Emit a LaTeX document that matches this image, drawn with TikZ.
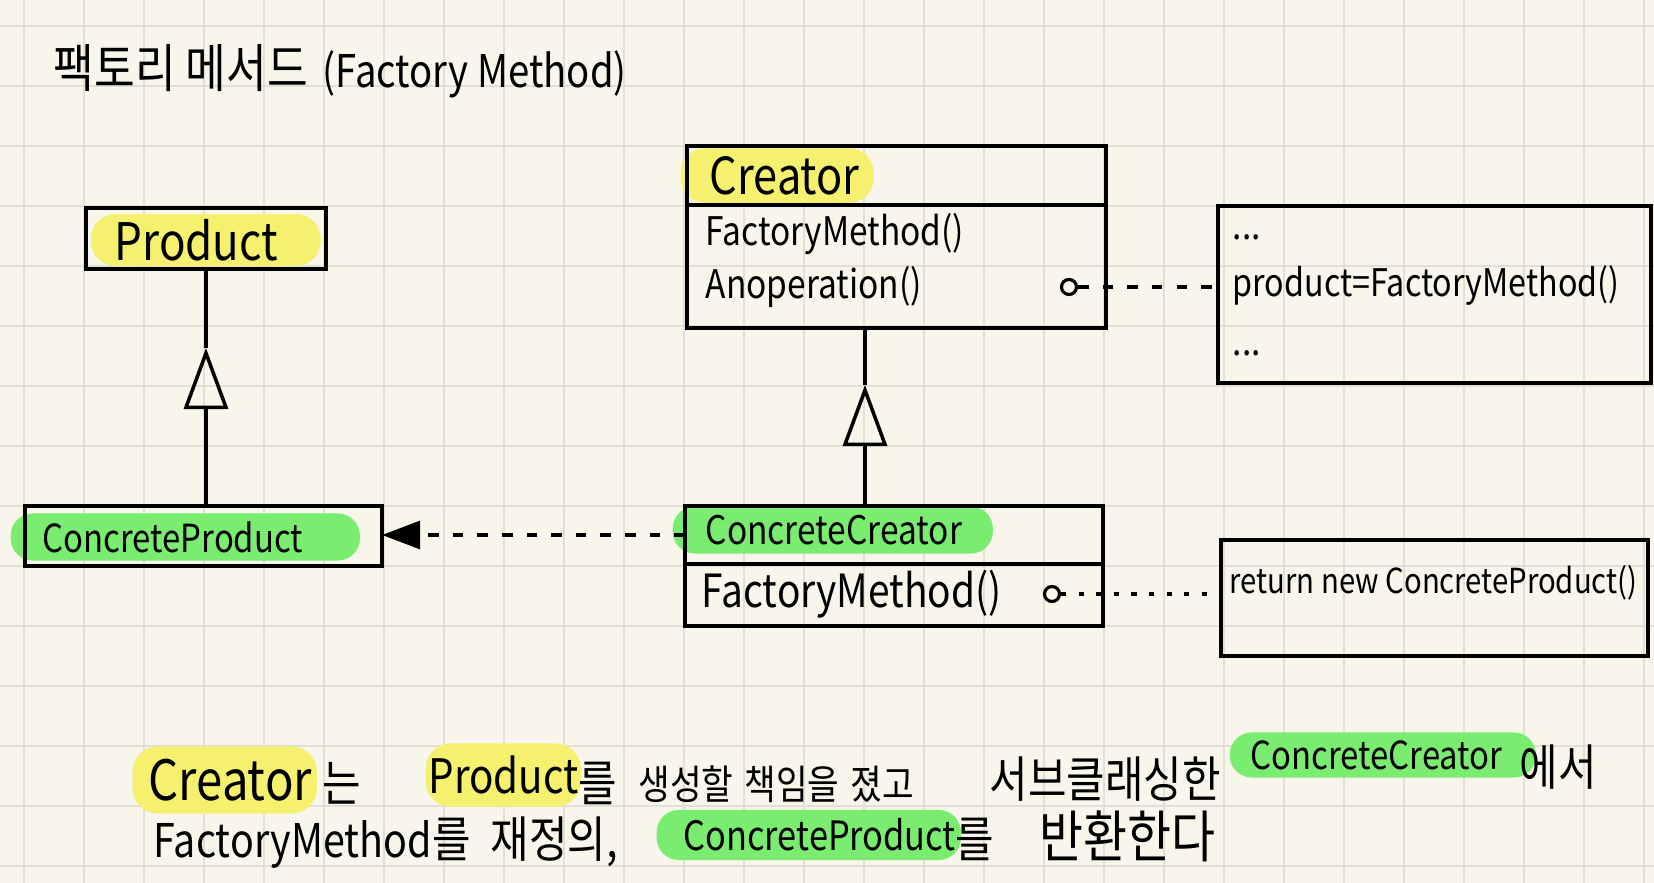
\documentclass[tikz,border=0pt]{standalone}
\usepackage{fontspec}
\setmainfont{Noto Sans CJK KR}[FakeStretch=0.85]
\usetikzlibrary{positioning, arrows.meta}
\definecolor{paper}{RGB}{248,246,234}
\definecolor{gridc}{RGB}{226,223,212}
\definecolor{hlyellow}{RGB}{245,240,110}
\definecolor{hlgreen}{RGB}{122,236,112}

\begin{document}
\begin{tikzpicture}[x=0.01cm, y=-0.01cm,
  box/.style={draw, line width=1pt, inner sep=0pt, outer sep=0pt},
  hly/.style={fill=hlyellow, rounded corners=0.25cm, inner ysep=0pt, align=left, anchor=west},
  hlg/.style={fill=hlgreen, rounded corners=0.22cm, inner ysep=0pt, align=left, anchor=west},
  txt/.style={font=\fontsize{11.2}{13}\selectfont, inner sep=0pt, anchor=west},
  word/.style={font=\fontsize{14}{16}\selectfont, inner sep=0pt, anchor=base west},
  dotc/.style={draw, circle, line width=0.9pt, inner sep=0pt, minimum size=0.15cm},
  inherit/.style={line width=1pt, -{Triangle[open, length=0.61cm, width=0.44cm, line width=1pt]}},
  call/.style={line width=0.9pt, dash pattern=on 3pt off 4pt}
]
\useasboundingbox (0,0) rectangle (1654,883);
\fill[paper] (0,0) rectangle (1654,883);
\foreach \gx in {24,84,...,1644} \draw[gridc, line width=0.8pt] (\gx,0) -- (\gx,883);
\foreach \gy in {26,86,...,866} \draw[gridc, line width=0.8pt] (0,\gy) -- (1654,\gy);

\node[word, font=\fontsize{14.8}{17}\selectfont] (title) at (53,88) {팩토리 메서드};
\node[word, font=\fontsize{12.8}{15}\selectfont] (titleen) at (322,88) {(Factory Method)};

% Product
\node[hly, inner xsep=0.24cm, text width=1.82cm, minimum height=0.52cm, font=\fontsize{14.7}{17}\selectfont] (productname) at (90,240) {Product};
\node[box, minimum width=2.40cm, minimum height=0.61cm] (product) at (206,238.5) {};

\node[hlg, inner xsep=0.32cm, text width=2.85cm, minimum height=0.47cm, font=\fontsize{11}{13}\selectfont] (cpname) at (10,537) {ConcreteProduct};
\node[box, minimum width=3.57cm, minimum height=0.60cm] (cproduct) at (203.5,536) {};

\coordinate (prtip) at (206,348);
\draw[inherit] (prtip |- cproduct.north) -- (prtip);
\draw[line width=1pt] (prtip) -- (product.south);

% Creator
\node[hly, inner xsep=0.29cm, text width=1.35cm, minimum height=0.55cm, font=\fontsize{14.5}{17}\selectfont] (crname) at (680,175.5) {Creator};
\node[box, minimum width=4.19cm, minimum height=0.59cm] (crhead) at (896.5,175.5) {};
\node[box, minimum width=4.19cm, minimum height=1.23cm, below=0pt of crhead] (crbody) {};
\node[txt] (crfm) at (705,234) {FactoryMethod()};
\node[txt] (crop) at (705,287) {Anoperation()};
\node[dotc] (dot1) at (1069,287) {};

\node[box, minimum width=4.33cm, minimum height=1.77cm] (note1) at (1434.5,294.5) {};
\node[txt] (n1a) at (1232,237) {...};
\node[txt, font=\fontsize{10.8}{13}\selectfont] (n1b) at (1232,285) {product=FactoryMethod()};
\node[txt] (n1c) at (1232,353) {...};
\draw[call] (dot1) -- (dot1 -| note1.west);

% ConcreteCreator
\node[hlg, inner xsep=0.33cm, text width=2.54cm, minimum height=0.47cm, font=\fontsize{11.2}{13}\selectfont] (ccname) at (672,530) {ConcreteCreator};
\node[box, minimum width=4.18cm, minimum height=0.58cm] (cchead) at (894,535) {};
\node[box, minimum width=4.18cm, minimum height=0.62cm, below=0pt of cchead] (ccbody) {};
\node[txt, font=\fontsize{13}{15}\selectfont] (ccfm) at (701,594) {FactoryMethod()};
\node[dotc] (dot2) at (1052,594) {};

\node[box, minimum width=4.27cm, minimum height=1.16cm] (note2) at (1434.5,598) {};
\node[txt, font=\fontsize{9.8}{12}\selectfont] (n2) at (1229,583) {return new ConcreteProduct()};
\draw[call, dash pattern=on 1.5pt off 3.5pt] (dot2) -- (dot2 -| note2.west);

\coordinate (crtip) at (865,385);
\draw[inherit] (crtip |- cchead.north) -- (crtip);
\draw[line width=1pt] (crtip) -- (crtip |- crbody.south);

\draw[call, -{Triangle[length=0.38cm, width=0.28cm]}] (cchead.west) -- (cchead.west -| cproduct.east);

% explanation
\node[hly, inner xsep=0.16cm, text width=1.52cm, minimum height=0.67cm, font=\fontsize{15.8}{18}\selectfont] (e1) at (132,780) {Creator};
\node[word] (e2) at (322,802) {는};
\node[hly, inner xsep=0.03cm, text width=1.49cm, minimum height=0.63cm, font=\fontsize{13.5}{16}\selectfont] (e3) at (425,775) {Product};
\node[word] (e4) at (578,802) {를};
\node[word, font=\fontsize{11.5}{14}\selectfont] (e5) at (638,800) {생성할};
\node[word, font=\fontsize{11.5}{14}\selectfont] (e6) at (744,800) {책임을};
\node[word, font=\fontsize{11.5}{14}\selectfont] (e7) at (850,800) {졌고};
\node[word] (e8) at (989,798) {서브클래싱한};
\node[hlg, inner xsep=0.21cm, text width=2.64cm, minimum height=0.45cm, font=\fontsize{11}{13}\selectfont] (e9) at (1229,755) {ConcreteCreator};
\node[word] (e10) at (1519,786) {에서};

\node[word, font=\fontsize{13.2}{16}\selectfont] (f1) at (153,858) {FactoryMethod};
\node[word] (f2) at (432,858) {를};
\node[word] (f3) at (490,858) {재정의,};
\node[hlg, inner xsep=0.27cm, text width=2.5cm, minimum height=0.50cm, font=\fontsize{11.5}{14}\selectfont] (f4) at (656,835) {ConcreteProduct};
\node[word] (f5) at (955,858) {를};
\node[word, font=\fontsize{16}{18}\selectfont] (f6) at (1039,858) {반환한다};
\end{tikzpicture}
\end{document}
